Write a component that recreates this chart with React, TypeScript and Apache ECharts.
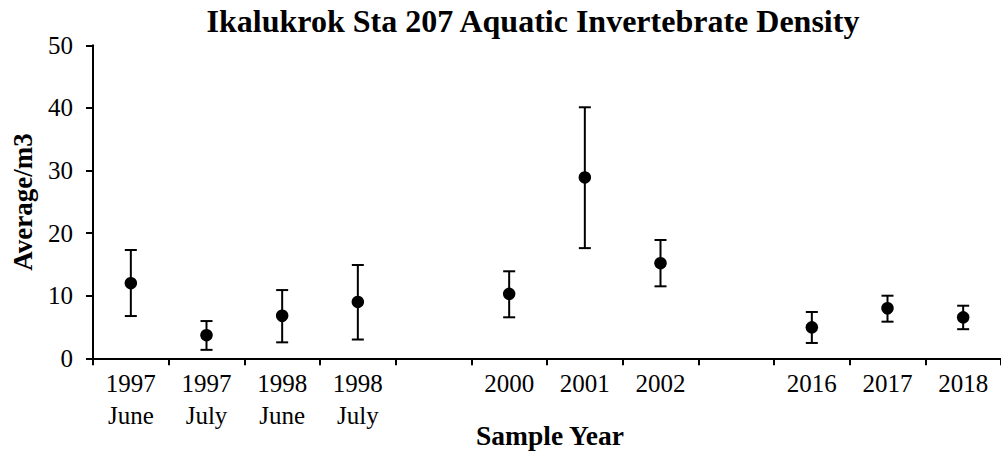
import React, { useEffect, useRef } from "react";
import * as echarts from "echarts";

const categories: string[] = [
  "1997\nJune",
  "1997\nJuly",
  "1998\nJune",
  "1998\nJuly",
  "",
  "2000",
  "2001",
  "2002",
  "",
  "2016",
  "2017",
  "2018",
];
const averages: (number | null)[] = [12.0, 3.7, 6.8, 9.0, null, 10.3, 28.9, 15.2, null, 4.95, 8.0, 6.55];
const upper: (number | null)[] = [17.3, 5.95, 10.9, 14.9, null, 13.9, 40.1, 18.9, null, 7.4, 10.0, 8.4];
const lower: (number | null)[] = [6.75, 1.35, 2.55, 3.0, null, 6.55, 17.6, 11.5, null, 2.45, 5.85, 4.65];
const yTicks = { min: 0, max: 50, interval: 10 };

const TITLE = "Ikalukrok Sta 207 Aquatic Invertebrate Density";
const FONT = "'Liberation Serif', 'Times New Roman', serif";

export default function App() {
  const ref = useRef<HTMLDivElement>(null);
  useEffect(() => {
    if (!ref.current) return;
    const chart = echarts.init(ref.current, null, { renderer: "svg" });
    const errData = categories
      .map((_, i) => (upper[i] == null ? null : [i, lower[i], upper[i]]))
      .filter((d) => d !== null);
    chart.setOption({
      animation: false,
      backgroundColor: "#fff",
      textStyle: { fontFamily: FONT },
      grid: { left: 93, right: -6, top: 45.3, bottom: 95.7, containLabel: false },
      xAxis: {
        type: "category",
        data: categories,
        boundaryGap: true,
        axisLine: { lineStyle: { color: "#000", width: 2 } },
        axisTick: { show: true, inside: false, length: 7, interval: 0, lineStyle: { color: "#000", width: 2 } },
        axisLabel: {
          interval: 0,
          color: "#000",
          fontFamily: FONT,
          fontSize: 25,
          lineHeight: 32,
          margin: 9,
        },
        splitLine: { show: false },
      },
      yAxis: {
        type: "value",
        min: yTicks.min,
        max: yTicks.max,
        interval: yTicks.interval,
        axisLine: { show: true, lineStyle: { color: "#000", width: 2 } },
        axisTick: { show: true, inside: false, length: 7, lineStyle: { color: "#000", width: 2 } },
        axisLabel: { color: "#000", fontFamily: FONT, fontSize: 25, margin: 20 },
        splitLine: { show: false },
      },
      graphic: [
        {
          type: "text",
          x: 533,
          y: 21,
          style: {
            text: TITLE,
            fill: "#000",
            font: `bold 32px ${FONT}`,
            textAlign: "center",
            textVerticalAlign: "middle",
          },
        },
        {
          type: "text",
          x: 23,
          y: 202,
          rotation: Math.PI / 2,
          style: {
            text: "Average/m3",
            fill: "#000",
            font: `bold 27px ${FONT}`,
            textAlign: "center",
            textVerticalAlign: "middle",
          },
        },
        {
          type: "text",
          x: 550,
          y: 435,
          style: {
            text: "Sample Year",
            fill: "#000",
            font: `bold 27.5px ${FONT}`,
            textAlign: "center",
            textVerticalAlign: "middle",
          },
        },
      ],
      series: [
        {
          type: "custom",
          name: "error",
          data: errData,
          z: 1,
          renderItem: (params: any, api: any) => {
            const x = api.value(0);
            const lo = api.coord([x, api.value(1)]);
            const hi = api.coord([x, api.value(2)]);
            const hw = 6;
            const style = { stroke: "#000", lineWidth: 2 };
            return {
              type: "group",
              children: [
                { type: "line", shape: { x1: lo[0], y1: lo[1], x2: hi[0], y2: hi[1] }, style },
                { type: "line", shape: { x1: hi[0] - hw, y1: hi[1], x2: hi[0] + hw, y2: hi[1] }, style },
                { type: "line", shape: { x1: lo[0] - hw, y1: lo[1], x2: lo[0] + hw, y2: lo[1] }, style },
              ],
            };
          },
        },
        {
          type: "scatter",
          name: "Average",
          data: averages,
          symbol: "circle",
          symbolSize: 12.5,
          itemStyle: { color: "#000", opacity: 1 },
          z: 2,
        },
      ],
    });
    return () => chart.dispose();
  }, []);
  return (
    <div
      ref={ref}
      style={{ position: "absolute", left: 0, top: 0, width: 1001, height: 454 }}
    />
  );
}
